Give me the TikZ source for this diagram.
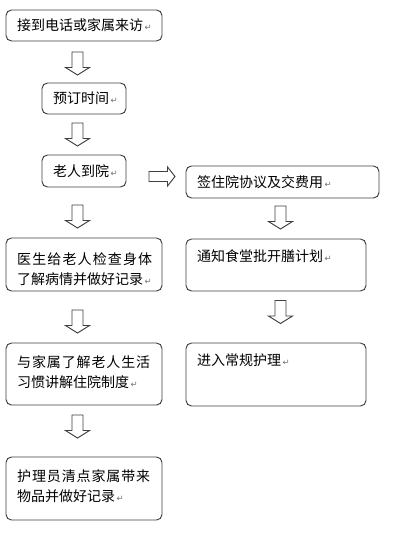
\documentclass[tikz,border=0pt]{standalone}
\usepackage{fontspec}
\setmainfont{Noto Sans CJK SC}
\newfontfamily\dejavu{DejaVu Sans}
\newcommand\pmk{\hspace{1.5pt}{\dejavu\fontsize{8.5}{9}\selectfont\color{black!55}↵}}
\newcommand\dnblk[2]{% cx, ytop
  \draw[blk] (#1-5.5,#2) -- (#1+5.5,#2) -- (#1+5.5,#2+15.5) -- (#1+12,#2+15.5)
    -- (#1,#2+23) -- (#1-12,#2+15.5) -- (#1-5.5,#2+15.5) -- cycle;}
\begin{document}
\begin{tikzpicture}[x=1pt,y=-1pt,
  box/.style={draw=black!75, line width=0.95pt, rounded corners=5.5pt, fill=white,
    anchor=north west, inner sep=0pt, outer sep=0pt},
  txt/.style={anchor=west, inner sep=0pt, font=\fontsize{14}{16}\selectfont, text=black},
  blk/.style={draw=black!75, line width=0.95pt, fill=white, line join=miter}]
\useasboundingbox[fill=white] (0,0) rectangle (408,535);

% boxes (left column)
\node[box, minimum width=156pt, minimum height=31pt] (b1) at (6,10) {};
\node[box, minimum width=84pt, minimum height=31pt] (b2) at (42,83) {};
\node[box, minimum width=84pt, minimum height=32pt] (b3) at (42,155) {};
\node[box, minimum width=156pt, minimum height=53pt] (b4) at (6,238) {};
\node[box, minimum width=156pt, minimum height=62pt] (b5) at (6,343) {};
\node[box, minimum width=156pt, minimum height=63pt] (b6) at (6,457) {};
% boxes (right column)
\node[box, minimum width=193pt, minimum height=32pt] (r1) at (186,166) {};
\node[box, minimum width=180pt, minimum height=52pt] (r2) at (186,239) {};
\node[box, minimum width=180pt, minimum height=63pt] (r3) at (186,343) {};

% texts
\node[txt] (t1) at (17,25.5) {接到电话或家属来访\pmk};
\node[txt] (t2) at (53,98.5) {预订时间\pmk};
\node[txt] (t3) at (53,171) {老人到院\pmk};
\node[txt] (t4a) at (17,259) {\makebox[135pt][l]{医\hfill 生\hfill 给\hfill 老\hfill 人\hfill 检\hfill 查\hfill 身\hfill 体}};
\node[txt] (t4b) at (17,279) {了解病情并做好记录\pmk};
\node[txt] (t5a) at (17,362.5) {\makebox[133pt][l]{与\hfill 家\hfill 属\hfill 了\hfill 解\hfill 老\hfill 人\hfill 生\hfill 活}};
\node[txt] (t5b) at (17,382.5) {习惯讲解住院制度\pmk};
\node[txt] (t6a) at (17,476) {\makebox[133pt][l]{护\hfill 理\hfill 员\hfill 清\hfill 点\hfill 家\hfill 属\hfill 带\hfill 来}};
\node[txt] (t6b) at (17,496) {物品并做好记录\pmk};
\node[txt] (u1) at (197,182) {签住院协议及交费用\pmk};
\node[txt] (u2) at (197,256.5) {通知食堂批开膳计划\pmk};
\node[txt] (u3) at (197,360) {进入常规护理\pmk};

% block arrows
\dnblk{77.5}{52}
\dnblk{77.5}{123}
\dnblk{77.5}{205}
\dnblk{77.5}{310}
\dnblk{77.5}{415}
\dnblk{280.5}{206}
\dnblk{280.5}{300.5}
\draw[blk] (149,171.5) -- (167.5,171.5) -- (167.5,167) -- (175,176.5) -- (167.5,186)
  -- (167.5,181.5) -- (149,181.5) -- cycle;
\end{tikzpicture}
\end{document}
